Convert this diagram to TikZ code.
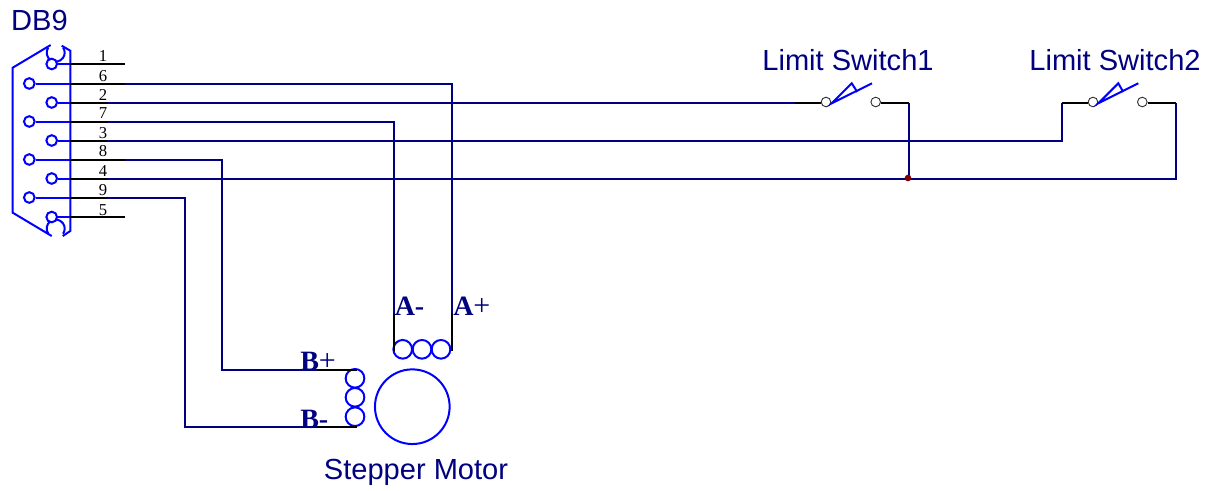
\documentclass[tikz,border=0pt]{standalone}
\usepackage{fontspec}
\setmainfont{Liberation Sans}
\newfontfamily\serifnum{Liberation Serif}
\definecolor{wirenavy}{RGB}{0,0,128}
\definecolor{partblue}{RGB}{0,0,255}
\definecolor{juncred}{RGB}{128,0,0}
\newcommand{\bigplus}{{\fontsize{22.5pt}{22pt}\selectfont+}}
\tikzset{
  dbpin/.style={circle,draw=partblue,line width=1.5pt,fill=white,inner sep=0pt,minimum size=8pt},
  coil/.style={circle,draw=partblue,line width=1.5pt,inner sep=0pt,minimum size=14pt},
  swpin/.style={circle,draw=black!80,line width=0.7pt,fill=white,inner sep=0pt,minimum size=7.2pt},
  partline/.style={draw=partblue,line width=1.5pt},
  stub/.style={draw=black,line width=1.5pt},
  wire/.style={draw=wirenavy,line width=1.5pt},
  title/.style={text=wirenavy,font=\fontsize{21.8pt}{23pt}\selectfont,inner sep=0pt},
  pinnum/.style={text=black,font=\serifnum\fontsize{12.5pt}{13pt}\selectfont,inner sep=0pt},
  wirelab/.style={text=wirenavy,font=\serifnum\fontsize{21pt}{22pt}\selectfont,inner sep=0pt,anchor=base west},
}
\begin{document}
\begin{tikzpicture}[x=0.75pt,y=-0.75pt]
\useasboundingbox (0,0) rectangle (1213,490);
% titles
\node[title] (tdb) at (39.5,20) {DB9};
\node[title] (tls1) at (848,60) {Limit Switch1};
\node[title] (tls2) at (1115,60) {Limit Switch2};
\node[title] (tsm) at (416,472) {Stepper Motor};
% connector shell
\draw[partline] (50.7,45) -- (12.7,67.7) -- (12.7,212.7) -- (51.7,236);
\draw[partline] (61.7,45.7) -- (70.3,50.7) -- (70.3,231) -- (62.7,236);
\draw[partline] (48.3,47.5) arc[start angle=215,end angle=-35,radius=9];
\draw[partline] (48.3,233.7) arc[start angle=145,end angle=395,radius=9];
% pins
\foreach \n/\x/\y in {1/51.7/64,6/29.3/83.5,2/51.7/102.5,7/29.3/121.5,3/51.7/140.5,8/29.3/159.5,4/51.7/178.5,9/29.3/197.5,5/51.7/217}{
  \node[dbpin] (p\n) at (\x,\y) {};
  \coordinate (w\n) at (70.3,\y);
  \coordinate (s\n) at (108,\y);
  \coordinate (t\n) at (125,\y);
}
\foreach \n/\y in {1/56,6/76,2/95,7/113.5,3/133,8/151,4/171,9/190,5/210}{
  \node[pinnum] (n\n) at (103,\y) {\n};
}
\foreach \n in {1,6,2,7,3,8,4,9,5}{
  \draw[partline] (p\n) -- (w\n);
}
\draw[stub] (w1) -- (t1);
\draw[stub] (w5) -- (t5);
\foreach \n in {6,8}{\draw[stub] (w\n) -- (t\n);}
\foreach \n in {2,7,3,4,9}{\draw[stub] (w\n) -- (s\n);}
% motor
\node[coil] (ca1) at (402.7,349.3) {};
\node[coil] (ca2) at (422,349.3) {};
\node[coil] (ca3) at (441,349.3) {};
\node[coil] (cb1) at (355,378.3) {};
\node[coil] (cb2) at (355,397.3) {};
\node[coil] (cb3) at (355,416.7) {};
\node[circle,draw=partblue,line width=1.5pt,inner sep=0pt,minimum size=56pt] (rotor) at (412.3,406.7) {};
% motor wires
\coordinate (a6) at (451.5,83.5);
\coordinate (a6m) at (451.5,313);
\coordinate (a6e) at (451.5,351);
\coordinate (a7) at (394,121.5);
\coordinate (a7m) at (394,313);
\coordinate (a7e) at (394,351);
\coordinate (b8) at (222,159.5);
\coordinate (b8m) at (222,369.7);
\coordinate (b8k) at (317,369.7);
\coordinate (b8e) at (356.7,369.7);
\coordinate (b9) at (185,197.5);
\coordinate (b9m) at (185,426.7);
\coordinate (b9k) at (317,426.7);
\coordinate (b9e) at (356.7,426.7);
\draw[wire] (t6) -- (a6) -- (a6m);
\draw[stub] (a6m) -- (a6e);
\draw[wire] (s7) -- (a7) -- (a7m);
\draw[stub] (a7m) -- (a7e);
\draw[wire] (t8) -- (b8) -- (b8m) -- (b8k);
\draw[stub] (b8k) -- (b8e);
\draw[wire] (s9) -- (b9) -- (b9m) -- (b9k);
\draw[stub] (b9k) -- (b9e);
% motor labels
\node[wirelab] (la) at (394.5,315) {\textbf{A-}};
\node[wirelab] (lap) at (453,315) {\textbf{A}\bigplus};
\node[wirelab] (lbp) at (300,370.5) {\textbf{B}\bigplus};
\node[wirelab] (lbm) at (300,428) {\textbf{B-}};
% switch 1
\node[swpin] (s1a) at (826,102) {};
\node[swpin] (s1b) at (875.7,102) {};
\coordinate (s1k) at (795,102.5);
\coordinate (s1r) at (909,102.5);
\coordinate (jn) at (909,178.5);
\draw[wire] (s2) -- (s1k);
\draw[stub] (s1k) -- (s1a.west |- s1k);
\draw[stub] (s1b.east |- s1r) -- (s1r);
\draw[wire] (s1r) -- (jn);
\draw[partline] (872,83.3) -- (831.7,103.3) -- (851.7,83.3) -- (857.3,92);
% switch 2
\node[swpin] (s2a) at (1093,102) {};
\node[swpin] (s2b) at (1142.3,102) {};
\coordinate (s2c) at (1061.7,140.5);
\coordinate (s2k) at (1061.7,102.5);
\coordinate (s2r) at (1176,102.5);
\coordinate (s2d) at (1176,178.5);
\draw[wire] (s3) -- (s2c) -- (s2k);
\draw[stub] (s2k) -- (s2a.west |- s2k);
\draw[stub] (s2b.east |- s2r) -- (s2r);
\draw[wire] (s4) -- (s2d) -- (s2r);
\draw[partline] (1138.3,83.3) -- (1098.3,103.3) -- (1118.3,83.3) -- (1123.3,92);
% junction
\node[circle,fill=juncred,inner sep=0pt,minimum size=5pt] (jd) at (908,178) {};
\end{tikzpicture}
\end{document}
